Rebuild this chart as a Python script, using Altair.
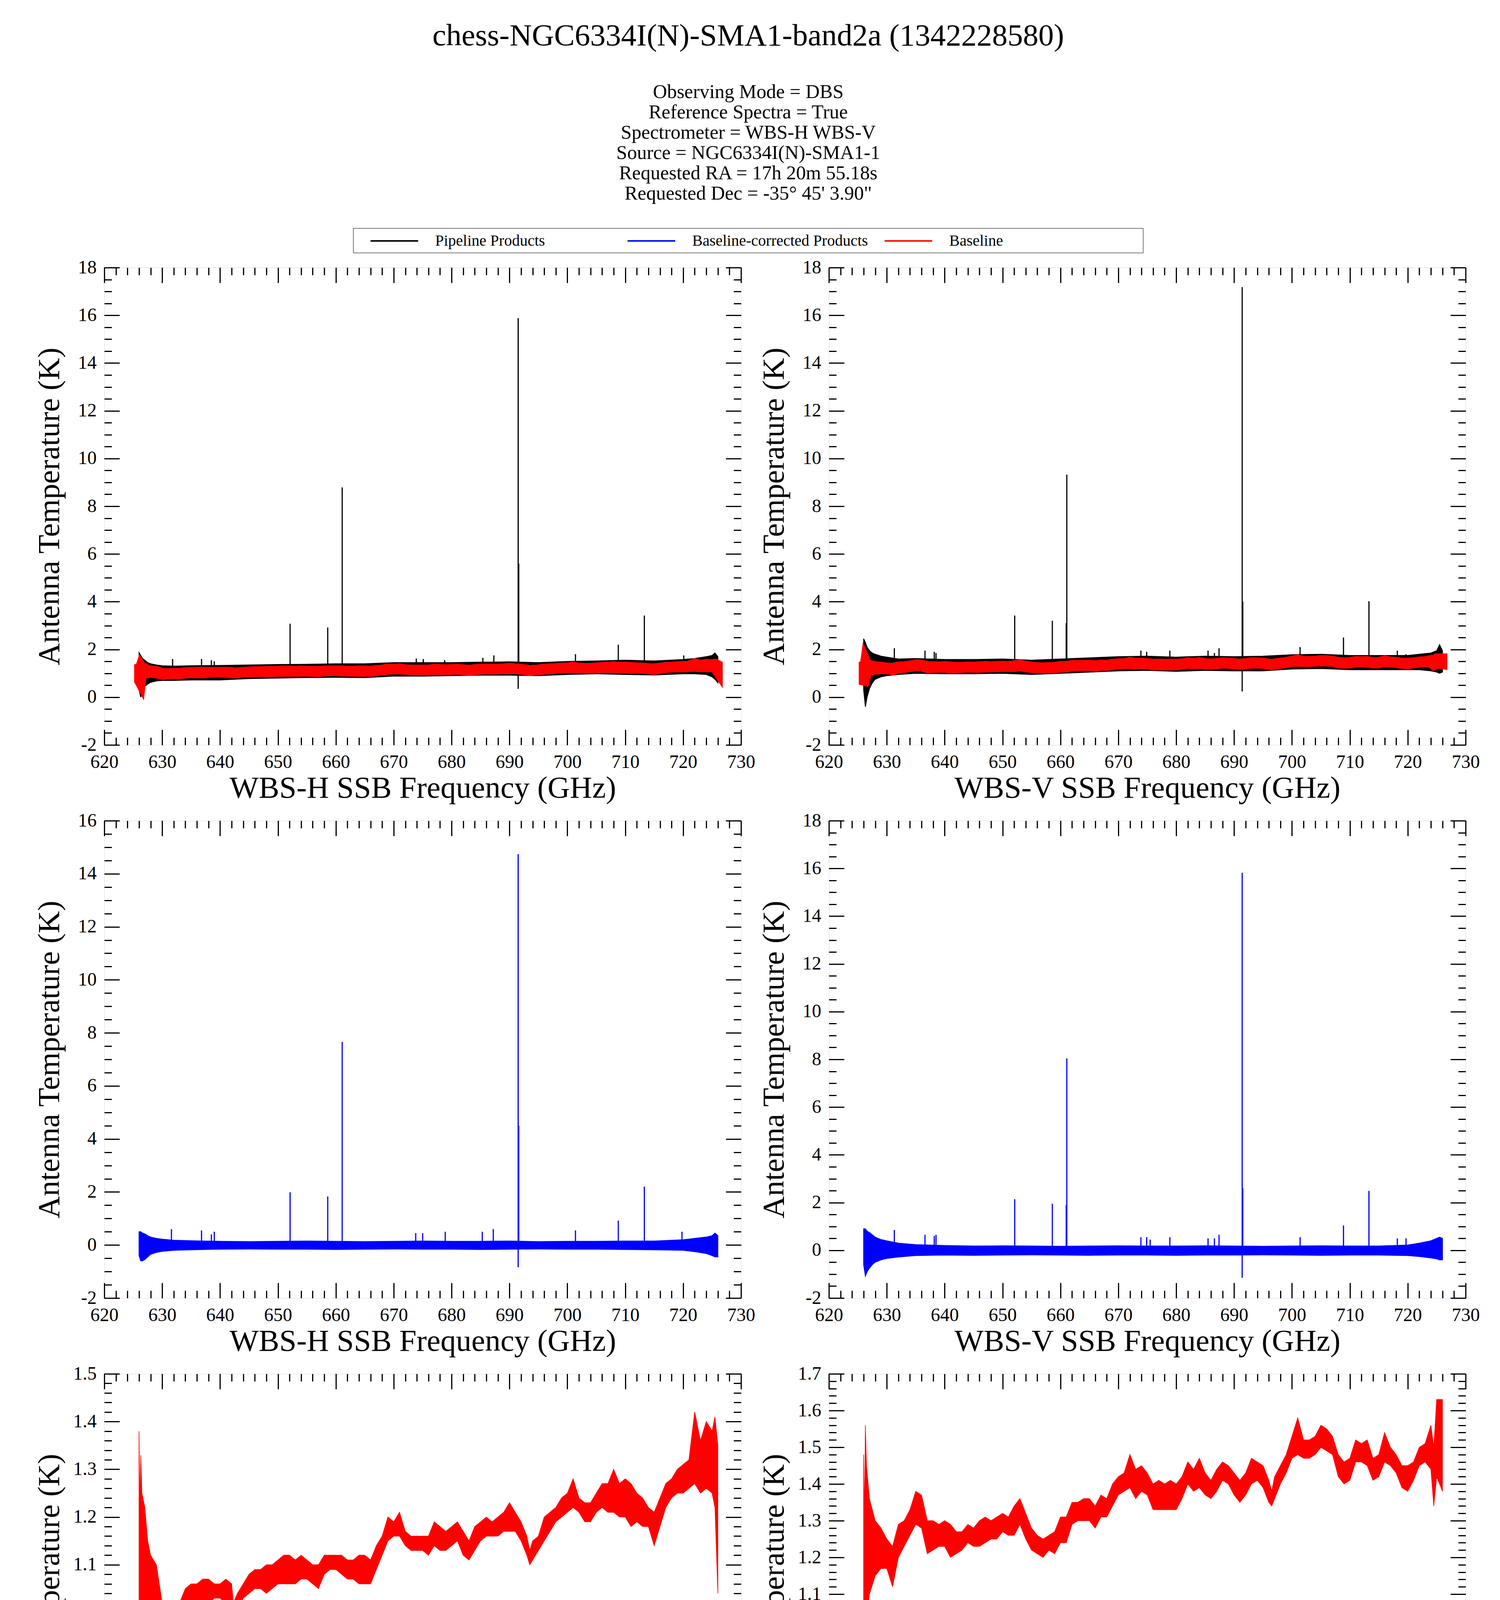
import altair as alt
import pandas as pd

FONT = "Liberation Serif"

# ---------------- text ----------------
TITLE = "chess-NGC6334I(N)-SMA1-band2a (1342228580)"
SUBTITLE = [
    "Observing Mode = DBS",
    "Reference Spectra = True",
    "Spectrometer = WBS-H WBS-V",
    "Source = NGC6334I(N)-SMA1-1",
    "Requested RA = 17h 20m 55.18s",
    "Requested Dec = -35\u00b0 45' 3.90\"",
]
SERIES = ["Pipeline Products", "Baseline-corrected Products", "Baseline"]
SERIES_COLORS = ["#000000", "#0000ff", "#ff0000"]
X_TITLE_H = "WBS-H SSB Frequency (GHz)"
X_TITLE_V = "WBS-V SSB Frequency (GHz)"
Y_TITLE = "Antenna Temperature (K)"

# ---------------- ticks ----------------
X_DOMAIN = [620, 730]
X_MAJOR = [620, 630, 640, 650, 660, 670, 680, 690, 700, 710, 720, 730]
X_MINOR = list(range(620, 731, 2))
Y_MAJOR_TOP = [-2, 0, 2, 4, 6, 8, 10, 12, 14, 16, 18]
Y_MINOR_TOP = [-2 + 0.5 * i for i in range(41)]
Y_MAJOR_ML = [-2, 0, 2, 4, 6, 8, 10, 12, 14, 16]
Y_MINOR_ML = [-2 + 0.5 * i for i in range(37)]
Y_MAJOR_BL = [0.5, 0.6, 0.7, 0.8, 0.9, 1.0, 1.1, 1.2, 1.3, 1.4, 1.5]
Y_MINOR_BL = [round(0.5 + 0.02 * i, 2) for i in range(51)]
Y_MAJOR_BR = [0.4, 0.5, 0.6, 0.7, 0.8, 0.9, 1.0, 1.1, 1.2, 1.3, 1.4, 1.5, 1.6, 1.7]
Y_MINOR_BR = [round(0.4 + 0.02 * i, 2) for i in range(66)]

# ---------------- noise envelopes ----------------
ENV_F = [626.0, 626.3, 626.6, 627.0, 627.5, 628.0, 629.0, 630.0, 632.0, 635.0,
         640.0, 645.0, 650.0, 655.0, 660.0, 665.0, 670.0, 675.0, 680.0, 685.0,
         690.0, 695.0, 700.0, 705.0, 710.0, 715.0, 720.0, 722.0, 724.0, 725.0,
         725.5, 726.0]
PIPE_H_HI = [1.87, 1.75, 1.62, 1.55, 1.45, 1.40, 1.35, 1.32, 1.30, 1.32,
             1.33, 1.35, 1.37, 1.38, 1.40, 1.40, 1.45, 1.45, 1.45, 1.47,
             1.48, 1.45, 1.50, 1.52, 1.55, 1.52, 1.58, 1.62, 1.70, 1.75,
             1.85, 1.70]
PIPE_H_LO = [0.30, 0.00, 0.30, 0.45, 0.55, 0.62, 0.68, 0.70, 0.70, 0.72,
             0.72, 0.78, 0.80, 0.82, 0.83, 0.82, 0.88, 0.88, 0.90, 0.92,
             0.92, 0.90, 0.95, 0.98, 0.95, 0.93, 0.98, 0.98, 0.95, 0.85,
             0.75, 0.60]
PIPE_V_HI = [2.45, 2.30, 2.10, 1.95, 1.85, 1.80, 1.72, 1.68, 1.60, 1.62,
             1.58, 1.58, 1.60, 1.55, 1.60, 1.65, 1.70, 1.72, 1.68, 1.72,
             1.70, 1.72, 1.78, 1.80, 1.75, 1.75, 1.75, 1.80, 1.85, 1.95,
             2.20, 1.95]
PIPE_V_LO = [0.30, -0.40, 0.00, 0.35, 0.60, 0.75, 0.85, 0.90, 0.95, 1.00,
             0.98, 0.98, 1.00, 0.95, 1.00, 1.05, 1.10, 1.12, 1.08, 1.12,
             1.10, 1.10, 1.18, 1.20, 1.15, 1.15, 1.15, 1.15, 1.10, 1.05,
             1.00, 1.05]
CORR_H_HI = [0.50, 0.50, 0.45, 0.42, 0.35, 0.30, 0.25, 0.22, 0.18, 0.16,
             0.14, 0.13, 0.14, 0.15, 0.14, 0.13, 0.14, 0.15, 0.14, 0.14,
             0.15, 0.13, 0.14, 0.14, 0.15, 0.15, 0.20, 0.25, 0.30, 0.35,
             0.45, 0.35]
CORR_H_LO = [-0.40, -0.60, -0.60, -0.55, -0.45, -0.35, -0.28, -0.24, -0.20, -0.18,
             -0.16, -0.15, -0.16, -0.16, -0.17, -0.16, -0.15, -0.16, -0.16, -0.17,
             -0.16, -0.15, -0.16, -0.16, -0.17, -0.18, -0.20, -0.25, -0.32, -0.40,
             -0.45, -0.45]
CORR_V_HI = [0.90, 0.90, 0.80, 0.75, 0.65, 0.55, 0.45, 0.40, 0.30, 0.24,
             0.20, 0.18, 0.19, 0.18, 0.17, 0.18, 0.19, 0.18, 0.18, 0.19,
             0.18, 0.17, 0.18, 0.19, 0.18, 0.18, 0.22, 0.30, 0.40, 0.50,
             0.55, 0.50]
CORR_V_LO = [-0.60, -1.08, -0.90, -0.75, -0.60, -0.50, -0.40, -0.34, -0.28, -0.22,
             -0.20, -0.21, -0.20, -0.19, -0.20, -0.21, -0.20, -0.20, -0.21, -0.20,
             -0.20, -0.19, -0.20, -0.21, -0.20, -0.20, -0.22, -0.26, -0.32, -0.36,
             -0.40, -0.40]

# ---------------- baselines ----------------
BASE_H_F = [626.0, 626.15, 626.3, 626.5, 627, 627.5, 628, 629, 630, 631, 632, 633, 634,
            635, 636, 637, 638, 639, 640, 641, 642, 642.3, 643, 644, 645, 646, 647,
            648, 649, 650, 651, 652, 653, 654, 655, 656, 657, 658, 659, 660, 661,
            662, 663, 664, 665, 666, 667, 668, 669, 670, 671, 672, 673, 674, 675,
            676, 677, 678, 679, 680, 681, 682, 683, 684, 685, 686, 687, 688, 689,
            690, 691, 692, 693, 693.5, 694, 695, 696, 697, 698, 699, 700, 701, 702,
            703, 704, 705, 706, 707, 708, 709, 710, 711, 712, 713, 714, 715, 716,
            717, 718, 719, 720, 721, 722, 723, 724, 725, 725.5, 726]
BASE_H_HI = [1.38, 1.22, 1.33, 1.25, 1.22, 1.15, 1.12, 1.10, 1.02, 1.01, 1.02, 1.02, 1.05,
             1.06, 1.06, 1.07, 1.07, 1.06, 1.06, 1.07, 1.06, 1.02, 1.04, 1.06, 1.08, 1.09, 1.09,
             1.10, 1.10, 1.11, 1.12, 1.12, 1.11, 1.12, 1.11, 1.10, 1.10, 1.12, 1.12, 1.12, 1.12,
             1.11, 1.11, 1.12, 1.12, 1.11, 1.14, 1.16, 1.20, 1.19, 1.21, 1.17, 1.16, 1.16, 1.16,
             1.16, 1.19, 1.18, 1.17, 1.18, 1.19, 1.17, 1.15, 1.18, 1.19, 1.20, 1.19, 1.20, 1.21,
             1.23, 1.21, 1.19, 1.16, 1.13, 1.15, 1.16, 1.20, 1.21, 1.22, 1.24, 1.25, 1.28, 1.24,
             1.23, 1.23, 1.25, 1.27, 1.27, 1.30, 1.27, 1.28, 1.27, 1.25, 1.24, 1.22, 1.21, 1.24,
             1.27, 1.28, 1.30, 1.31, 1.32, 1.42, 1.36, 1.40, 1.38, 1.41, 1.35]
BASE_H_LO = [0.68, 0.62, 0.55, 0.98, 1.00, 1.00, 1.02, 1.00, 0.93, 0.95, 0.96, 0.96, 0.99,
             1.00, 1.00, 0.99, 1.02, 1.03, 1.03, 1.02, 1.00, 0.99, 1.00, 1.03, 1.04, 1.05, 1.05,
             1.04, 1.05, 1.06, 1.06, 1.06, 1.06, 1.07, 1.07, 1.06, 1.05, 1.08, 1.09, 1.09, 1.08,
             1.07, 1.07, 1.06, 1.06, 1.06, 1.09, 1.12, 1.15, 1.16, 1.16, 1.14, 1.13, 1.13, 1.13,
             1.12, 1.14, 1.13, 1.13, 1.14, 1.15, 1.12, 1.11, 1.13, 1.15, 1.16, 1.16, 1.16, 1.17,
             1.17, 1.17, 1.15, 1.12, 1.10, 1.11, 1.13, 1.15, 1.17, 1.19, 1.20, 1.21, 1.22, 1.21,
             1.19, 1.19, 1.21, 1.22, 1.21, 1.21, 1.20, 1.20, 1.18, 1.19, 1.18, 1.18, 1.14, 1.18,
             1.22, 1.24, 1.25, 1.25, 1.26, 1.27, 1.25, 1.26, 1.25, 1.22, 1.04]

BASE_V_F = [626.0, 626.15, 626.3, 626.5, 627, 628, 629, 630, 631, 632, 633, 634, 635,
            636, 637, 638, 639, 640, 641, 642, 643, 644, 645, 646, 647, 648, 649, 650,
            651, 652, 653, 654, 655, 656, 657, 658, 659, 660, 661, 662, 663, 664, 665,
            666, 667, 668, 669, 670, 671, 672, 673, 674, 675, 676, 677, 678, 679, 680,
            681, 682, 683, 684, 685, 686, 687, 688, 689, 690, 691, 692, 693, 694, 695,
            696, 696.5, 697, 698, 699, 700, 701, 702, 703, 704, 705, 706, 707, 708, 709,
            710, 711, 712, 713, 714, 715, 716, 717, 718, 719, 720, 721, 722, 723, 724,
            724.5, 725, 726]
BASE_V_HI = [1.48, 1.30, 1.56, 1.45, 1.36, 1.30, 1.28, 1.25, 1.23, 1.29, 1.30, 1.33, 1.38,
             1.37, 1.30, 1.30, 1.29, 1.30, 1.29, 1.27, 1.27, 1.29, 1.28, 1.30, 1.31, 1.30, 1.31, 1.32,
             1.31, 1.34, 1.36, 1.32, 1.28, 1.26, 1.25, 1.26, 1.27, 1.31, 1.31, 1.35, 1.35, 1.36, 1.36,
             1.34, 1.37, 1.36, 1.40, 1.42, 1.43, 1.48, 1.44, 1.45, 1.43, 1.40, 1.41, 1.40, 1.41, 1.40,
             1.42, 1.46, 1.44, 1.47, 1.43, 1.41, 1.44, 1.46, 1.45, 1.43, 1.41, 1.43, 1.47, 1.46, 1.45,
             1.41, 1.38, 1.42, 1.45, 1.48, 1.53, 1.58, 1.52, 1.52, 1.53, 1.56, 1.55, 1.53, 1.48, 1.46,
             1.47, 1.52, 1.51, 1.52, 1.47, 1.48, 1.54, 1.50, 1.48, 1.45, 1.45, 1.46, 1.50, 1.51, 1.56,
             1.50, 1.63, 1.63]
BASE_V_LO = [0.53, 0.60, 0.75, 1.02, 1.10, 1.15, 1.17, 1.17, 1.12, 1.20, 1.23, 1.26, 1.29,
             1.28, 1.21, 1.22, 1.23, 1.23, 1.20, 1.21, 1.22, 1.24, 1.23, 1.23, 1.24, 1.25, 1.25, 1.27,
             1.26, 1.26, 1.29, 1.25, 1.22, 1.21, 1.20, 1.22, 1.21, 1.24, 1.24, 1.29, 1.30, 1.30, 1.30,
             1.28, 1.31, 1.31, 1.34, 1.37, 1.38, 1.39, 1.36, 1.38, 1.37, 1.33, 1.33, 1.33, 1.33, 1.33,
             1.36, 1.40, 1.38, 1.39, 1.37, 1.36, 1.38, 1.41, 1.40, 1.37, 1.35, 1.37, 1.40, 1.41, 1.39,
             1.35, 1.34, 1.36, 1.40, 1.43, 1.47, 1.48, 1.47, 1.47, 1.48, 1.50, 1.49, 1.48, 1.42, 1.40,
             1.41, 1.46, 1.46, 1.45, 1.41, 1.42, 1.46, 1.45, 1.43, 1.39, 1.38, 1.41, 1.45, 1.46, 1.44,
             1.34, 1.42, 1.38]

# ---------------- spectral lines (freq, peak, foot) ----------------
SPK_PH_F = [631.8, 636.8, 638.5, 639.0, 652.1, 658.6, 661.1, 673.9, 675.1, 678.8, 685.4,
            687.3, 691.5, 691.6, 701.4, 708.8, 713.3, 720.1]
SPK_PH_TOP = [1.60, 1.60, 1.55, 1.50, 3.08, 2.92, 8.79, 1.62, 1.60, 1.55, 1.65,
              1.75, 15.88, 5.60, 1.80, 2.20, 3.42, 1.75]
SPK_PH_BOT = [1.10, 1.10, 1.10, 1.10, 1.10, 1.10, 1.10, 1.15, 1.15, 1.15, 1.20,
              1.20, 0.35, 1.20, 1.25, 1.25, 1.25, 1.30]

SPK_PV_F = [631.3, 636.6, 638.2, 638.5, 652.1, 658.6, 661.0, 661.1, 673.9, 674.9, 678.9,
            685.5, 686.6, 687.4, 691.4, 691.5, 701.4, 708.9, 713.3, 718.2, 719.7]
SPK_PV_TOP = [2.05, 1.95, 1.90, 1.85, 3.42, 3.20, 3.10, 9.32, 1.95, 1.90, 1.95,
              1.95, 1.85, 2.05, 17.18, 4.00, 2.10, 2.50, 4.02, 1.95, 1.80]
SPK_PV_BOT = [1.20, 1.25, 1.25, 1.25, 1.30, 1.30, 1.30, 1.30, 1.40, 1.40, 1.40,
              1.40, 1.40, 1.40, 0.24, 1.40, 1.50, 1.45, 1.45, 1.45, 1.45]

SPK_CH_F = [631.6, 636.8, 638.5, 639.0, 652.1, 658.6, 661.1, 673.8, 675.0, 678.9, 685.3,
            687.2, 691.5, 691.6, 701.4, 708.8, 713.3, 719.8]
SPK_CH_TOP = [0.60, 0.55, 0.40, 0.50, 1.99, 1.83, 7.66, 0.45, 0.45, 0.50, 0.50,
              0.60, 14.74, 4.50, 0.55, 0.92, 2.20, 0.50]
SPK_CH_BOT = [0.0, 0.0, 0.0, 0.0, 0.0, 0.0, 0.0, 0.0, 0.0, 0.0, 0.0,
              0.0, -0.84, 0.0, 0.0, 0.0, 0.0, 0.0]

SPK_CV_F = [631.3, 636.6, 638.2, 638.5, 652.1, 658.6, 661.0, 661.1, 673.9, 674.9, 675.5,
            678.9, 685.5, 686.6, 687.4, 691.4, 691.5, 701.4, 708.9, 713.3, 718.2, 719.7]
SPK_CV_TOP = [0.85, 0.65, 0.60, 0.65, 2.14, 1.95, 1.90, 8.04, 0.55, 0.55, 0.45,
              0.55, 0.50, 0.50, 0.65, 15.82, 2.60, 0.55, 1.04, 2.49, 0.50, 0.50]
SPK_CV_BOT = [0.0, 0.0, 0.0, 0.0, 0.0, 0.0, 0.0, 0.0, 0.0, 0.0, 0.0,
              0.0, 0.0, 0.0, 0.0, -1.15, 0.0, 0.0, 0.0, 0.0, 0.0, 0.0]

# ---------------- frames ----------------
def env_df(f, lo, hi):
    return pd.DataFrame({"f": f, "lo": lo, "hi": hi})


def spk_df(f, top, bot, series):
    return pd.DataFrame({"f": f, "top": top, "bot": bot, "series": series})


pipe_h = env_df(ENV_F, PIPE_H_LO, PIPE_H_HI)
pipe_v = env_df(ENV_F, PIPE_V_LO, PIPE_V_HI)
corr_h = env_df(ENV_F, CORR_H_LO, CORR_H_HI)
corr_v = env_df(ENV_F, CORR_V_LO, CORR_V_HI)
base_h = env_df(BASE_H_F, BASE_H_LO, BASE_H_HI)
base_v = env_df(BASE_V_F, BASE_V_LO, BASE_V_HI)
spk_ph = spk_df(SPK_PH_F, SPK_PH_TOP, SPK_PH_BOT, SERIES[0])
spk_pv = spk_df(SPK_PV_F, SPK_PV_TOP, SPK_PV_BOT, SERIES[0])
spk_ch = spk_df(SPK_CH_F, SPK_CH_TOP, SPK_CH_BOT, SERIES[1])
spk_cv = spk_df(SPK_CV_F, SPK_CV_TOP, SPK_CV_BOT, SERIES[1])

# ---------------- styling helpers ----------------
MAJ = 39
MIN = 19
PANEL_W = 1630
PANEL_H = 1222
LAB_INT = "datum.value < 0 ? '-' + format(-datum.value, 'd') : format(datum.value, 'd')"
LAB_DEC = "format(datum.value, '.1f')"

LEGEND = alt.Legend(
    orient="none", legendX=637, legendY=-101, direction="horizontal",
    columns=3, gridAlign="all", columnPadding=8,
    symbolType="M-3,0H3", symbolSize=1654, symbolStrokeWidth=4, symbolOffset=73,
    labelFont=FONT, labelFontSize=40, labelColor="black", labelOffset=82,
    labelLimit=3000, padding=10, strokeColor="black",
    title=".", titleOrient="right", titleFontSize=1, titleOpacity=0, titlePadding=347,
)


def make_axis(orient, values, size, labels=False, title=None, label_expr=None):
    is_y = orient in ("left", "right")
    kw = dict(orient=orient, values=values, domain=False, grid=False, ticks=True,
              tickSize={"expr": str(-size)}, tickWidth=3, tickColor="black",
              labels=labels, title=title)
    if labels:
        kw.update(labelPadding=size + 20, labelFont=FONT, labelFontSize=48,
                  labelColor="black", labelFlush=False, labelOverlap=False)
        if label_expr:
            kw["labelExpr"] = label_expr
    if title:
        kw.update(titleFont=FONT, titleFontSize=79, titleFontWeight="normal",
                  titleColor="black", titleBaseline="alphabetic")
        if is_y:
            kw["titleX"] = -117
        else:
            kw["titleY"] = 134
    return alt.Axis(**kw)


def band(df, color, sw):
    def build(xs, ys, xa, ya):
        return alt.Chart(df).mark_area(fill=color, stroke=color, strokeWidth=sw).encode(
            x=alt.X("f:Q", scale=xs, axis=xa),
            y=alt.Y("lo:Q", scale=ys, axis=ya),
            y2="hi:Q",
        )
    return build


def spikes(df, color, legend=False):
    def build(xs, ys, xa, ya):
        enc = dict(
            x=alt.X("f:Q", scale=xs, axis=xa),
            y=alt.Y("top:Q", scale=ys, axis=ya),
            y2="bot:Q",
        )
        if legend:
            enc["color"] = alt.Color("series:N", scale=alt.Scale(domain=SERIES, range=SERIES_COLORS),
                                     legend=LEGEND)
        return alt.Chart(df).mark_rule(strokeWidth=3, color=color).encode(**enc)
    return build


def panel(layers_fn, fill_df, ydom, y_major, y_minor, xtitle, lab_expr):
    xs = alt.Scale(domain=X_DOMAIN, nice=False, zero=False)
    ys = alt.Scale(domain=ydom, nice=False, zero=False)
    axes = [
        (make_axis("bottom", X_MAJOR, MAJ, True, xtitle),
         make_axis("left", y_major, MAJ, True, Y_TITLE, lab_expr)),
        (make_axis("bottom", X_MINOR, MIN), make_axis("left", y_minor, MIN)),
        (make_axis("top", X_MAJOR, MAJ), make_axis("right", y_major, MAJ)),
        (make_axis("top", X_MINOR, MIN), make_axis("right", y_minor, MIN)),
    ]
    layers = []
    for i, (xa, ya) in enumerate(axes):
        if i < len(layers_fn):
            layers.append(layers_fn[i](xs, ys, xa, ya))
        else:
            layers.append(alt.Chart(fill_df).mark_area(opacity=0).encode(
                x=alt.X("f:Q", scale=xs, axis=xa),
                y=alt.Y("lo:Q", scale=ys, axis=ya),
                y2="hi:Q"))
    return alt.layer(*layers).properties(width=PANEL_W, height=PANEL_H).resolve_axis(
        x="independent", y="independent")


tl = panel([band(pipe_h, "#000000", 2), spikes(spk_ph, "#000000", legend=True),
            band(base_h, "#ff0000", 25)], pipe_h, [-2, 18], Y_MAJOR_TOP, Y_MINOR_TOP,
           X_TITLE_H, LAB_INT)
tr = panel([band(pipe_v, "#000000", 2), spikes(spk_pv, "#000000"),
            band(base_v, "#ff0000", 25)], pipe_v, [-2, 18], Y_MAJOR_TOP, Y_MINOR_TOP,
           X_TITLE_V, LAB_INT)
ml = panel([band(corr_h, "#0000ff", 2), spikes(spk_ch, "#0000ff")], corr_h, [-2, 16],
           Y_MAJOR_ML, Y_MINOR_ML, X_TITLE_H, LAB_INT)
mr = panel([band(corr_v, "#0000ff", 2), spikes(spk_cv, "#0000ff")], corr_v, [-2, 18],
           Y_MAJOR_TOP, Y_MINOR_TOP, X_TITLE_V, LAB_INT)
bl = panel([band(base_h, "#ff0000", 1.5)], base_h, [0.5, 1.5], Y_MAJOR_BL, Y_MINOR_BL,
           X_TITLE_H, LAB_DEC)
br = panel([band(base_v, "#ff0000", 1.5)], base_v, [0.4, 1.7], Y_MAJOR_BR, Y_MINOR_BR,
           X_TITLE_V, LAB_DEC)

chart = alt.concat(tl, tr, ml, mr, bl, br, columns=2,
                   spacing={"row": 18, "column": 7}).properties(
    title=alt.TitleParams(
        text=TITLE, subtitle=SUBTITLE, anchor="middle", frame="bounds",
        baseline="top",
        font=FONT, fontSize=79, fontWeight="normal", color="black",
        subtitleFont=FONT, subtitleFontSize=50, subtitleColor="black",
        subtitleLineHeight=52, subtitlePadding=78, offset=62, dx=-22,
    ),
    padding={"left": 78, "top": 44, "right": 10, "bottom": 20},
).configure_view(stroke="black", strokeWidth=3).configure(background="white")

chart.save("out.html", embed_options={"renderer": "svg", "actions": False})
